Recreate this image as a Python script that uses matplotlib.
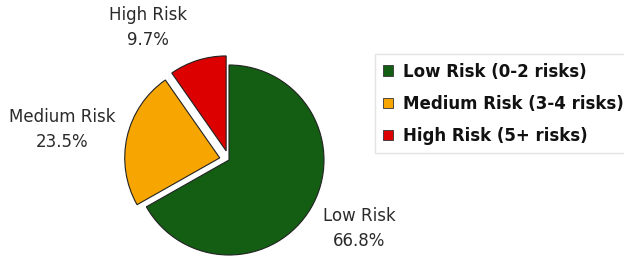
import matplotlib.pyplot as plt

categories = ["Low Risk", "Medium Risk", "High Risk"]
shares = [66.8, 23.5, 9.7]
legend_labels = ["Low Risk (0-2 risks)", "Medium Risk (3-4 risks)", "High Risk (5+ risks)"]
colors = ["#135e13", "#f7a500", "#dc0000"]

fig = plt.figure(figsize=(6.24, 2.58), dpi=100)
ax = fig.add_axes([0, 0, 1, 1])

explode = [0, 0.1, 0.1]
wedges, _ = ax.pie(shares, colors=colors, startangle=90, counterclock=False,
                   explode=explode, radius=1,
                   wedgeprops=dict(edgecolor="#222222", linewidth=0.8))

# pie resets the limits, so set them afterwards
r = 95.0
cx, cy = 229, 98  # pie centre in pixels (from bottom-left)
ax.set_xlim(-cx / r, (624 - cx) / r)
ax.set_ylim(-cy / r, (258 - cy) / r)
ax.set_aspect("equal")
ax.axis("off")

# label spots, in pie radii from the centre
label_xy = [(1.37, -0.72), (-1.76, 0.32), (-0.85, 1.39)]
for (x, y), name, val in zip(label_xy, categories, shares):
    ax.text(x, y, f"{name}\n{val}%", ha="center", va="center",
            fontsize=12, color="#2a2a2a", linespacing=1.5)

handles = [plt.Rectangle((0, 0), 1, 1, facecolor=c, edgecolor="#333333", linewidth=0.6)
           for c in colors]
leg = fig.legend(handles, legend_labels, loc="upper left",
                 bbox_to_anchor=(0.601, 0.79), frameon=True, fancybox=False,
                 edgecolor="#dddddd", handlelength=0.6, handleheight=0.6,
                 handletextpad=0.55, labelspacing=0.85, borderpad=0.5,
                 borderaxespad=0, prop=dict(size=12, weight="bold"))
for t in leg.get_texts():
    t.set_color("#111111")

fig.savefig("out.png", dpi=100)
